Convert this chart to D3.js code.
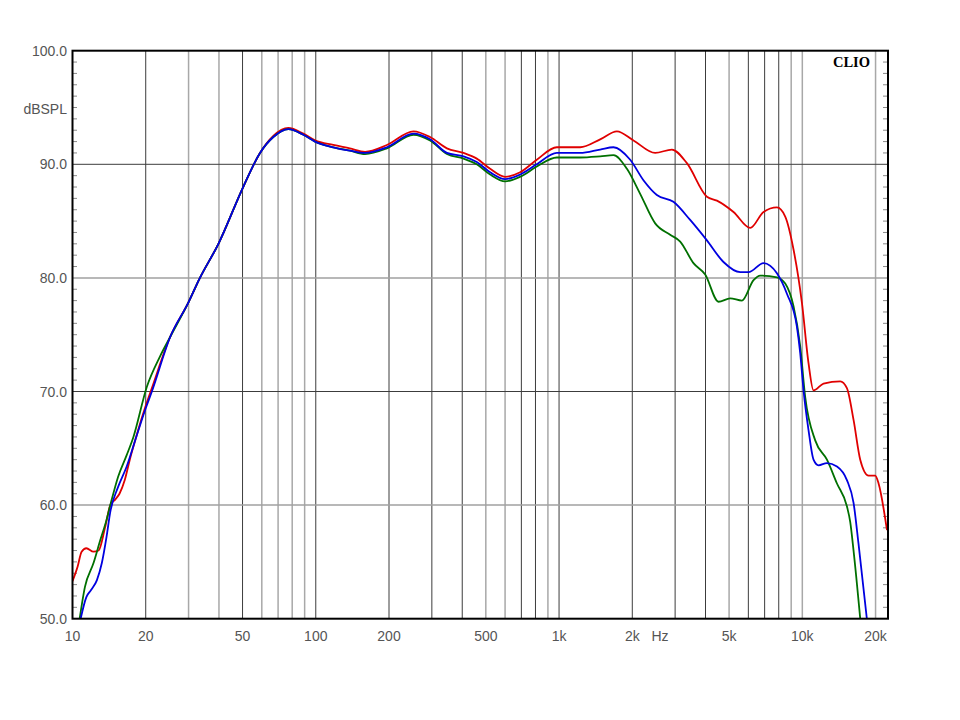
<!DOCTYPE html>
<html><head><meta charset="utf-8">
<script src="https://cdn.jsdelivr.net/npm/d3@7"></script>
<style>body{margin:0;background:#fff}svg{display:block}</style>
</head><body>
<svg id="c" width="960" height="720"></svg>
<script>
// ---- data ----
const redHz = [10,10.5,10.9,11.4,12.2,12.8,13.6,14.3,15.0,15.6,16.4,17.2,18.1,19.9,21.2,25.2,29.9,33.4,39.8,50.3,59,66.9,77.1,88.9,99.3,118,138,159.5,196,252,295,346,405,459,521,600,692,810,979,1221,1476,1729,2023,2484,2909,3354,4053,4456,5213,6107,6927,7864,8506,9201,9963,10604,11118,12224,14320,15250,16240,17300,18720,19940,20580,22280];
const redDb = [53.3,54.6,55.9,56.2,55.9,56.0,58.0,60.0,60.5,61.0,62.2,64.0,65.7,68.6,70.3,74.8,77.8,80.0,83.0,88.0,91.0,92.5,93.2,92.7,92.1,91.7,91.4,91.1,91.7,92.9,92.4,91.4,91.0,90.5,89.6,88.9,89.3,90.4,91.5,91.5,92.2,92.9,92.1,91.0,91.3,90.1,87.15,86.8,85.8,84.4,85.8,86.2,85.4,82.5,77.8,72.5,70.1,70.7,70.9,70.3,67.5,64.0,62.6,62.6,61.9,57.8];

const greenHz = [10.7,11.25,12.2,13.0,13.8,14.3,15.4,16.7,17.8,20.2,22.9,25.2,29.9,33.4,39.8,50.3,59,66.9,77.1,88.9,99.3,118,138,159.5,196,252,295,346,405,459,521,600,692,810,979,1221,1476,1674,1901,2155,2484,2862,3148,3569,3988,4523,5052,5645,6302,6713,7864,8506,9201,9800,10277,11297,12625,13880,15250,15740,16240,17300];
const greenDb = [50.0,52.8,54.9,56.9,58.7,60.0,62.5,64.4,66.0,70.4,73.1,74.8,77.8,80.0,83.0,88.0,91.0,92.4,93.1,92.6,92.0,91.5,91.2,90.9,91.4,92.6,92.1,90.9,90.5,90.0,89.1,88.5,88.9,89.8,90.6,90.6,90.7,90.8,89.6,87.4,84.8,83.8,83.2,81.3,80.3,77.9,78.2,78.0,79.8,80.2,80.05,79.5,77.5,74.0,69.5,65.7,64.0,61.9,59.9,58.5,56.0,50.0];

const blueHz = [10.8,11.4,11.9,12.6,13.2,13.8,14.3,15.4,16.7,18.1,19.9,21.2,25.2,29.9,33.4,39.8,50.3,59,66.9,77.1,88.9,99.3,118,138,159.5,196,252,295,346,405,459,521,600,692,810,979,1221,1476,1674,1961,2223,2524,2953,3459,4053,4742,5556,6009,6927,7864,8644,9502,9800,10116,10604,11118,11656,12625,13880,15250,16240,17020,18440];
const blueDb = [50.0,51.9,52.5,53.4,54.9,57.2,59.4,61.6,63.4,65.7,68.4,70.0,74.8,77.8,80.0,83.0,88.0,91.0,92.4,93.1,92.6,92.0,91.5,91.2,91.0,91.5,92.7,92.2,91.0,90.7,90.2,89.3,88.7,89.1,90.0,91.0,91.0,91.3,91.5,90.4,88.6,87.3,86.7,85.1,83.3,81.4,80.5,80.5,81.3,80.4,78.6,75.7,73.4,70.1,66.6,64.0,63.5,63.7,63.4,62.2,60.2,56.6,49.9];

const xTickHz = [10,20,50,100,200,500,1000,2000,5000,10000,20000];
const xTickLabels = ["10","20","50","100","200","500","1k","2k","5k","10k","20k"];
const yTickVals = [50,60,70,80,90,100];
const gridHz = [20,30,40,50,60,70,80,90,100,200,300,400,500,600,700,800,900,1000,2000,3000,4000,5000,6000,7000,8000,9000,10000,20000];
const gridDark = [1,0,0,1,0,0,0,0,1,1,1,1,0,0,1,1,0,1,1,1,1,0,1,1,1,0,0,0];
const hGridDb = [60,70,80,90];
const hGridDark = [0,1,0,1];

// ---- layout ----
const L = 72.5, R = 888, T = 50.7, B = 618.7;
const svg = d3.select("#c");
const x = d3.scaleLog().domain([10, 22500]).range([L, R]);
const y = d3.scaleLinear().domain([50, 100]).range([B, T]);

svg.append("defs").append("clipPath").attr("id","clip")
  .append("rect").attr("x",L).attr("y",T).attr("width",R-L).attr("height",B-T);

// vertical grid
svg.append("g").selectAll("line").data(gridHz).join("line")
  .attr("x1", d => x(d)).attr("x2", d => x(d))
  .attr("y1", T).attr("y2", B)
  .attr("stroke", (d,i) => gridDark[i] ? "#3c3c3c" : "#a8a8a8")
  .attr("stroke-width", (d,i) => gridDark[i] ? 1 : 1.5);

// horizontal grid
svg.append("g").selectAll("line").data(hGridDb).join("line")
  .attr("x1", L).attr("x2", R)
  .attr("y1", d => y(d)).attr("y2", d => y(d))
  .attr("stroke", (d,i) => hGridDark[i] ? "#3c3c3c" : "#a0a0a0")
  .attr("stroke-width", (d,i) => hGridDark[i] ? 1 : 1.5);

// minor y ticks (every 1 dB) inside left and right
const minor = d3.range(51, 100).filter(v => v % 10 !== 0);
svg.append("g").selectAll("line").data(minor).join("line")
  .attr("x1", L).attr("x2", L + 4.5)
  .attr("y1", d => y(d)).attr("y2", d => y(d))
  .attr("stroke", "#8a8a8a").attr("stroke-width", 1);
svg.append("g").selectAll("line").data(minor).join("line")
  .attr("x1", R - 5).attr("x2", R)
  .attr("y1", d => y(d)).attr("y2", d => y(d))
  .attr("stroke", "#8a8a8a").attr("stroke-width", 1);

// curves
const line = d3.line().x(d => x(d[0])).y(d => y(d[1])).curve(d3.curveMonotoneX);
const series = [
  {hz: redHz, db: redDb, color: "#e00000"},
  {hz: greenHz, db: greenDb, color: "#007000"},
  {hz: blueHz, db: blueDb, color: "#0000e0"}
];
const cg = svg.append("g").attr("clip-path","url(#clip)");
series.forEach(s => {
  cg.append("path").datum(s.hz.map((h,i) => [h, s.db[i]]))
    .attr("d", line).attr("fill","none")
    .attr("stroke", s.color).attr("stroke-width", 1.8)
    .attr("stroke-linejoin","round");
});

// frame
svg.append("rect").attr("x",L).attr("y",T).attr("width",R-L).attr("height",B-T)
  .attr("fill","none").attr("stroke","#000").attr("stroke-width",2);

// y labels
const font = "'Liberation Sans', Arial, sans-serif";
svg.append("g").selectAll("text").data(yTickVals).join("text")
  .attr("x", 67).attr("y", d => y(d)).attr("dy","0.36em")
  .attr("text-anchor","end").attr("font-family",font).attr("font-size",14)
  .attr("fill","#555").text(d => d.toFixed(1));
svg.append("text").attr("x",67).attr("y",108.5).attr("dy","0.36em")
  .attr("text-anchor","end").attr("font-family",font).attr("font-size",14)
  .attr("fill","#555").text("dBSPL");

// x labels
svg.append("g").selectAll("text").data(xTickHz).join("text")
  .attr("x", d => x(d)).attr("y", 636).attr("dy","0.36em")
  .attr("text-anchor","middle").attr("font-family",font).attr("font-size",14)
  .attr("fill","#555").text((d,i) => xTickLabels[i]);
svg.append("text").attr("x",660).attr("y",636).attr("dy","0.36em")
  .attr("text-anchor","middle").attr("font-family",font).attr("font-size",14)
  .attr("fill","#555").text("Hz");

// CLIO
svg.append("text").attr("x",870).attr("y",62).attr("dy","0.36em")
  .attr("text-anchor","end").attr("font-family","'Liberation Serif', 'Times New Roman', serif")
  .attr("font-weight","bold").attr("font-size",14.5).attr("fill","#000").text("CLIO");
</script>
</body></html>
